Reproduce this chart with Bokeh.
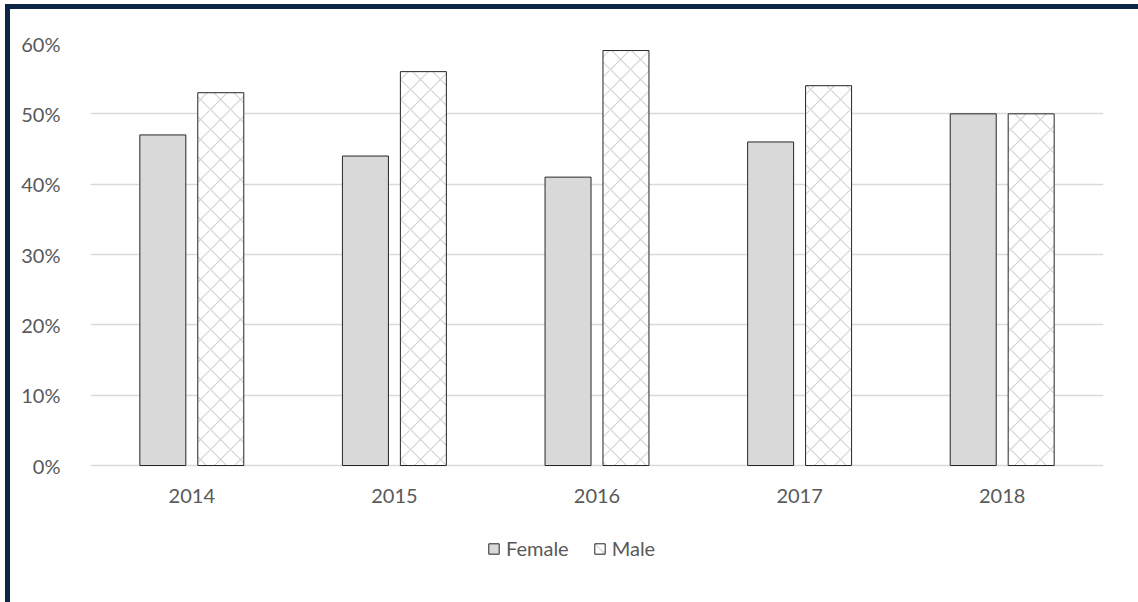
from bokeh.plotting import figure
from bokeh.models import (ColumnDataSource, FactorRange, Range1d, FixedTicker,
                          PrintfTickFormatter, Legend, LegendItem)
from bokeh.core.properties import value
from bokeh.transform import dodge
from bokeh.embed import file_html
from bokeh.resources import INLINE

# Share of respondents by gender, per year (percent)
years = ["2014", "2015", "2016", "2017", "2018"]
female = [47, 44, 41, 46, 50]
male = [53, 56, 59, 54, 50]
y_ticks = [0, 10, 20, 30, 40, 50, 60]

FONT = "Lato"
TEXT_COLOR = "#595959"
GRID_COLOR = "#d9d9d9"
NAVY = "#0b2545"

# the frame runs down to the bottom edge so the year labels and legend live inside it
PLOT_H = 422            # pixels from 0% to 60%
FRAME_H = 559           # full frame height
y_min = 60 - 60 * FRAME_H / PLOT_H

source = ColumnDataSource(data=dict(year=years, female=female, male=male,
                                    label_y=[-4.3] * len(years)))

p = figure(
    x_range=FactorRange(*years, range_padding=0),
    y_range=Range1d(y_min, 60),
    width=1128, height=593,
    frame_width=1013, frame_height=FRAME_H,
    min_border_left=80, min_border_right=35,
    min_border_top=34, min_border_bottom=0,
    x_axis_location=None,
    output_backend="svg", toolbar_location=None,
)
p.styles = {
    "margin-left": "5px", "margin-top": "4px",
    "border-left": f"5px solid {NAVY}", "border-top": f"5px solid {NAVY}",
}
p.background_fill_color = "white"
p.border_fill_color = "white"
p.outline_line_color = None

bar_w = 0.227
f_r = p.vbar(x=dodge("year", -0.143, range=p.x_range), top="female", width=bar_w,
             source=source, fill_color="#d9d9d9", line_color="#262626", line_width=1)
m_r = p.vbar(x=dodge("year", 0.143, range=p.x_range), top="male", width=bar_w,
             source=source, fill_color="white", line_color="#262626", line_width=1,
             hatch_pattern="diagonal_cross", hatch_color="#d4d4d4",
             hatch_scale=20, hatch_weight=1.2)

# year labels under the baseline
p.text(x="year", y="label_y", text="year", source=source,
       text_font=value(FONT), text_font_size="20px", text_color=TEXT_COLOR,
       text_align="center", text_baseline="middle")

# y axis: percent labels, no line or ticks
p.yaxis.ticker = FixedTicker(ticks=y_ticks)
p.yaxis.formatter = PrintfTickFormatter(format="%d%%")
p.yaxis.axis_line_color = None
p.yaxis.major_tick_line_color = None
p.yaxis.minor_tick_line_color = None
p.yaxis.major_label_standoff = 24
p.yaxis.major_label_text_font = FONT
p.yaxis.major_label_text_font_size = "20px"
p.yaxis.major_label_text_color = TEXT_COLOR

p.xgrid.grid_line_color = None
p.ygrid.ticker = FixedTicker(ticks=y_ticks)
p.ygrid.grid_line_color = GRID_COLOR
p.ygrid.grid_line_width = 1.3

# legend below the year labels, offset from the frame's lower-left corner
legend = Legend(
    items=[LegendItem(label="Female", renderers=[f_r]),
           LegendItem(label="Male", renderers=[m_r])],
    orientation="horizontal",
    location=(397, 42),
    border_line_color=None,
    background_fill_alpha=0,
    padding=0, margin=0, spacing=24,
    glyph_width=13, glyph_height=13, label_standoff=6,
    label_text_font=FONT, label_text_font_size="20px",
    label_text_color=TEXT_COLOR,
)
p.add_layout(legend)

open("out.html", "w").write(file_html(p, INLINE))
